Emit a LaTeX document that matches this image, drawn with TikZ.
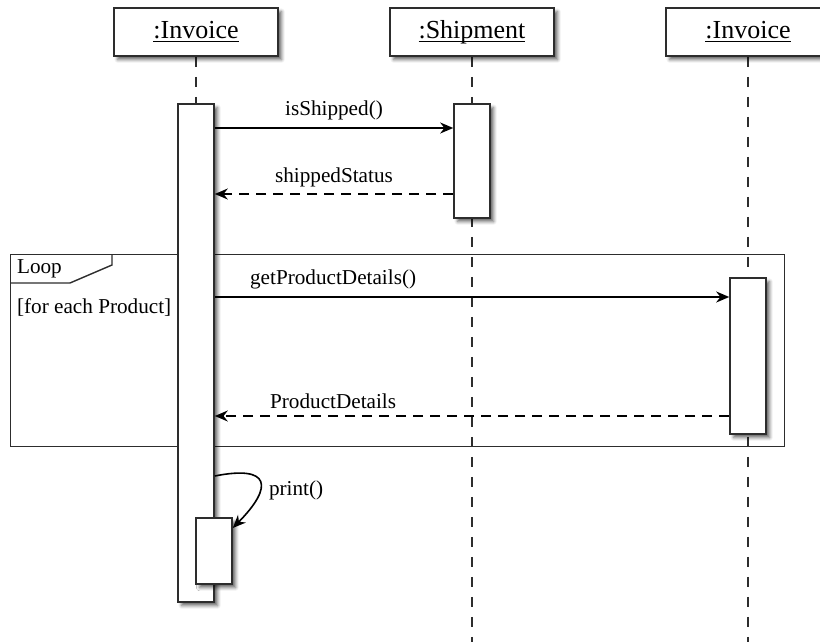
\documentclass[tikz,border=0pt]{standalone}
\usepackage{amsmath}
\usepackage{fontspec}
\setmainfont{Liberation Serif}
\usetikzlibrary{shapes,arrows.meta,positioning,calc,shadows.blur,backgrounds}
\definecolor{framegray}{RGB}{45,45,45}

\begin{document}
\begin{tikzpicture}[x=0.5pt, y=-0.5pt,
    softshadow/.style={blur shadow={shadow xshift=1.8pt, shadow yshift=-1.8pt, shadow blur radius=1.6pt, shadow opacity=60}},
    objbox/.style={draw=framegray, line width=0.8pt, fill=white, rectangle, minimum width=82pt, minimum height=24pt, font=\fontsize{13}{15}\selectfont, softshadow},
    activation/.style={draw=framegray, line width=0.8pt, fill=white, rectangle, minimum width=18pt, inner sep=0pt, softshadow},
    lifeline/.style={draw=framegray, line width=0.7pt, dash pattern=on 5pt off 5pt},
    framebox/.style={draw=framegray, line width=0.7pt},
    call/.style={draw=black, line width=1pt, -{Stealth[length=6.5pt,width=5.5pt]}},
    reply/.style={call, line width=0.8pt, dash pattern=on 5pt off 3.5pt},
    msglabel/.style={font=\fontsize{10.6}{12}\selectfont}]
    \useasboundingbox (0,0) rectangle (820,642);
    % Object heads, one per lifeline
    \node[objbox] (hdrA) at (196,32) {\underline{\smash[b]{:Invoice}}};
    \node[objbox] (hdrB) at (472,32) {\underline{\smash[b]{:Shipment}}};
    \node[objbox] (hdrC) at (748,32) {\underline{\smash[b]{:Invoice}}};
    % Activation bars
    \node[activation, minimum height=249pt] (actA) at (196,353) {};
    \node[activation, minimum height=57pt] (actB) at (472,161) {};
    \node[activation, minimum height=78pt] (actC) at (748,356) {};
    \node[activation, minimum height=33pt] (actP) at (214,551) {};
    \coordinate (endB) at (472,642);
    \coordinate (endC) at (748,642);
    \begin{scope}[on background layer]
      % Combined fragment
      \node[framebox, rectangle, minimum width=387pt, minimum height=96pt, anchor=north west, inner sep=0pt] (loopframe) at (10,254) {};
      \draw[framebox] ($(loopframe.north west)+(102,0)$) -- ++(0,11) -- ++(-42,18) -- ++(-60,0);
      \node[msglabel, anchor=west] (looptag) at (10,269) {Loop};
      \node[msglabel, anchor=west] (loopguard) at (10,307) {[for each Product]};
      % Lifelines
      \draw[lifeline] (hdrA.south) -- (actA.north);
      \draw[lifeline] (hdrB.south) -- (endB);
      \draw[lifeline] (hdrC.south) -- (endC);
    \end{scope}
    % Messages
    \draw[call] (actA.east |- 0,128) -- node[above, msglabel] (lblship) {isShipped()} (actB.west |- 0,128);
    \draw[reply] (actB.west |- 0,194) -- node[above, msglabel] (lblstatus) {shippedStatus} (actA.east |- 0,194);
    \draw[call] (actA.east |- 0,297) -- node[above, pos=0.23, msglabel] (lblget) {getProductDetails()} (actC.west |- 0,297);
    \draw[reply] (actC.west |- 0,416) -- node[above, pos=0.77, msglabel] (lbldetails) {ProductDetails} (actA.east |- 0,416);
    \draw[call, line width=0.8pt] (actA.east |- 0,476) .. controls (270,465) and (274,486) .. (actP.east |- 0,528);
    \node[msglabel, anchor=west] (lblprint) at (262,490) {print()};
  \end{tikzpicture}
\end{document}
